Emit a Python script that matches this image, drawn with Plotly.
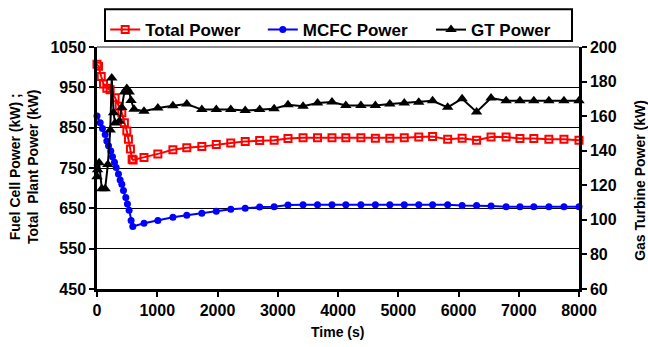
import plotly.graph_objects as go

# Time axis (s) for the start-up transient, sampled per series
t_total_early = [0, 25, 70, 108, 163, 218, 300, 368, 412, 455, 495, 522, 555, 583, 600]
p_total_early = [1007, 1002, 977, 958, 948, 944, 924, 903, 887, 862, 842, 821, 797, 772, 770]

t_mcfc_early = [0, 53, 91, 136, 163, 191, 229, 257, 290, 318, 356, 384, 412, 439, 478, 505, 533, 566, 594]
p_mcfc_early = [879, 862, 848, 833, 817, 805, 792, 778, 764, 751, 735, 720, 710, 694, 677, 661, 645, 620, 605]

t_gt_early = [0, 10, 35, 80, 135, 180, 220, 245, 275, 300, 370, 410, 455, 495, 535, 565, 615]
p_gt_early = [125, 129, 133, 118, 118, 132, 152, 182, 162, 156, 157, 165, 174, 176, 174, 169, 164]

# Common sampling after the transient
t_late = [780, 1010, 1260, 1490, 1740, 1980, 2220, 2460, 2700, 2940, 3170, 3420, 3660, 3900,
          4130, 4380, 4620, 4860, 5100, 5340, 5570, 5820, 6060, 6300, 6540, 6790, 7020, 7250,
          7500, 7750, 8000]
p_total_late = [776, 785, 795, 800, 803, 808, 812, 816, 818, 819, 823, 825, 825, 825,
                825, 825, 824, 824, 825, 827, 828, 821, 824, 819, 827, 827, 823, 823,
                821, 821, 819]
p_mcfc_late = [613, 620, 628, 633, 638, 643, 648, 650, 653, 654, 658, 659, 659, 659,
               659, 659, 659, 659, 659, 659, 659, 659, 657, 657, 656, 654, 654, 654,
               654, 654, 654]
p_gt_late = [162.8, 164.7, 166.0, 167.0, 163.8, 163.8, 163.8, 163.2, 163.8, 164.3, 166.6, 165.7,
             167.6, 168.2, 166.2, 166.2, 166.2, 167.0, 167.6, 168.0, 168.9, 165.1, 170.1, 162.4,
             170.5, 168.9, 168.9, 168.9, 168.9, 168.9, 168.9]

series_names = ["Total Power", "MCFC Power", "GT Power"]

FONT = "Liberation Sans, Arial, sans-serif"

fig = go.Figure()

fig.add_trace(go.Scatter(
    x=t_total_early + t_late, y=p_total_early + p_total_late,
    name=series_names[0], mode="lines+markers",
    line=dict(color="#FF0000", width=2),
    marker=dict(symbol="square-open", size=7, color="#FF0000", line=dict(width=2, color="#FF0000")),
    cliponaxis=False, legend="legend",
))
fig.add_trace(go.Scatter(
    x=t_mcfc_early + t_late, y=p_mcfc_early + p_mcfc_late,
    name=series_names[1], mode="lines+markers",
    line=dict(color="#0000FF", width=2),
    marker=dict(symbol="circle", size=7, color="#0000FF"),
    cliponaxis=False, legend="legend2",
))
fig.add_trace(go.Scatter(
    x=t_gt_early + t_late, y=p_gt_early + p_gt_late,
    name=series_names[2], mode="lines+markers", yaxis="y2",
    line=dict(color="#000000", width=2),
    marker=dict(symbol="triangle-up", size=10, color="#000000"),
    cliponaxis=False, legend="legend3",
))

tickfont = dict(family=FONT, size=16, color="black", weight="bold")
legfont = dict(family=FONT, size=17, color="black", weight="bold")
titlefont = dict(family=FONT, size=14, color="black", weight="bold")

leg_common = dict(orientation="h", xanchor="left", yanchor="middle", y=1.07,
                  bgcolor="rgba(0,0,0,0)", borderwidth=0, font=legfont)

fig.update_layout(
    width=648, height=347,
    margin=dict(l=97, r=69, t=45, b=58),
    paper_bgcolor="white", plot_bgcolor="white",
    showlegend=True,
    legend=dict(x=0.017, **leg_common),
    legend2=dict(x=0.344, **leg_common),
    legend3=dict(x=0.693, **leg_common),
    xaxis=dict(
        range=[0, 8000], dtick=1000, tick0=0,
        showline=True, linecolor="black", linewidth=2.5,
        ticks="outside", ticklen=5, tickwidth=2, tickcolor="black",
        showgrid=False, zeroline=False, tickfont=tickfont,
    ),
    yaxis=dict(
        range=[450, 1050], dtick=100, tick0=450,
        showline=True, linecolor="black", linewidth=2.5,
        ticks="outside", ticklen=5, tickwidth=2, tickcolor="black",
        showgrid=True, gridcolor="black", gridwidth=1,
        zeroline=False, tickfont=tickfont,
    ),
    yaxis2=dict(
        range=[60, 200], dtick=20, tick0=60,
        overlaying="y", side="right",
        showline=True, linecolor="black", linewidth=2.5,
        ticks="outside", ticklen=5, tickwidth=2, tickcolor="black",
        showgrid=False, zeroline=False, tickfont=tickfont,
    ),
    shapes=[
        # top frame line
        dict(type="line", xref="paper", yref="paper", x0=0, x1=1, y0=1, y1=1,
             line=dict(color="#8C8C8C", width=2)),
        # legend frame
        dict(type="rect", xref="paper", yref="paper", x0=0.0166, x1=0.9855, y0=1.0246, y1=1.1557,
             line=dict(color="black", width=2), fillcolor="white", layer="below"),
    ],
    annotations=[
        dict(text="Fuel Cell Power (kW) ;<br>Total  Plant Power (kW)", xref="paper", yref="paper",
             x=-0.1515, y=0.508, xanchor="center", yanchor="middle", textangle=-90,
             showarrow=False, font=titlefont),
        dict(text="Gas Turbine Power (kW)", xref="paper", yref="paper",
             x=1.1266, y=0.447, xanchor="center", yanchor="middle", textangle=-90,
             showarrow=False, font=titlefont),
        dict(text="Time (s)", xref="paper", yref="paper",
             x=0.498, y=-0.176, xanchor="center", yanchor="middle",
             showarrow=False, font=titlefont),
    ],
)

fig.write_html("out.html")
